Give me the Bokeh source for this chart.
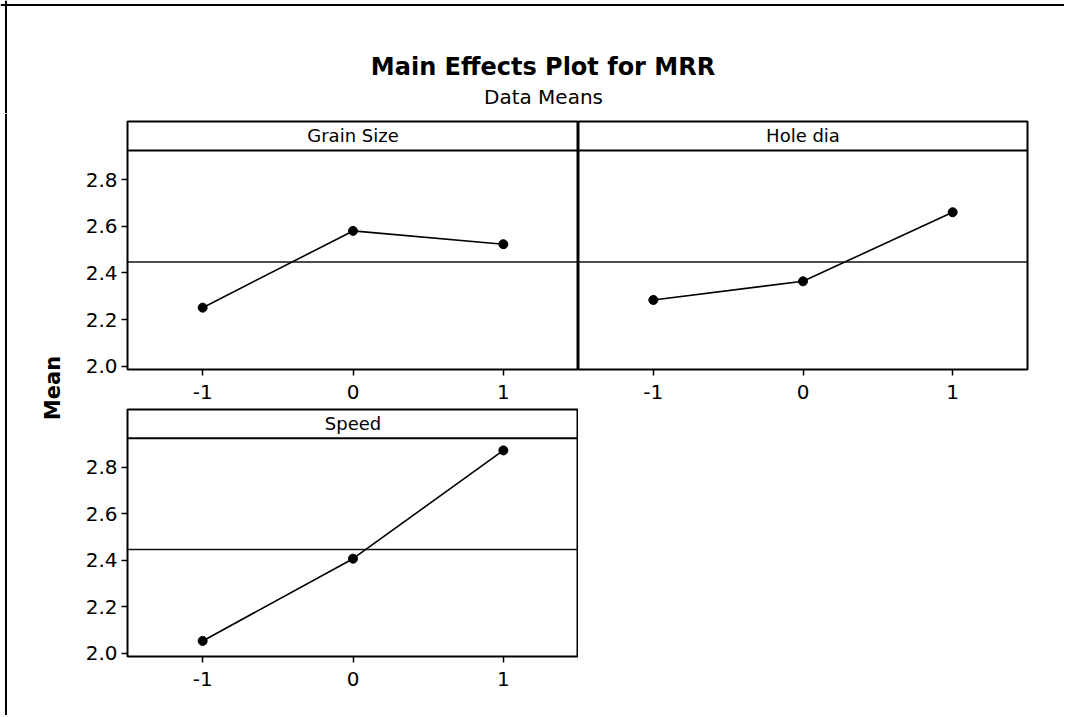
from math import pi
from bokeh.plotting import figure
from bokeh.layouts import row, column
from bokeh.models import Span, Label, Spacer, FixedTicker, Range1d
from bokeh.embed import file_html
from bokeh.resources import INLINE

# ---- data ----
levels = [-1, 0, 1]
tick_labels = {-1: "-1", 0: "0", 1: "1"}
grain_size = [2.251, 2.580, 2.523]
hole_dia = [2.284, 2.364, 2.660]
speed = [2.053, 2.407, 2.873]
y_ticks = [2.0, 2.2, 2.4, 2.6, 2.8]
grand_mean = 2.447
panel_names = ["Grain Size", "Hole dia", "Speed"]

FONT = "DejaVu Sans"
Y0, Y1, HDR = 1.986, 3.049, 2.925


def panel(name, values, width, height, left, right, top, bottom, show_y):
    p = figure(width=width, height=height, output_backend="svg", toolbar_location=None,
               x_range=Range1d(-1.5, 1.5), y_range=Range1d(Y0, Y1),
               min_border_left=left, min_border_right=right,
               min_border_top=top, min_border_bottom=bottom)
    p.background_fill_color = "white"
    p.border_fill_color = "white"
    p.outline_line_color = "black"
    p.outline_line_width = 2
    p.grid.visible = False
    for ax in (p.xaxis, p.yaxis):
        ax.axis_line_color = None
        ax.major_tick_line_color = "black"
        ax.major_tick_line_width = 1.5
        ax.major_tick_out = 6
        ax.major_tick_in = 0
        ax.minor_tick_line_color = None
        ax.major_label_text_font = FONT
        ax.major_label_text_font_size = "20px"
        ax.major_label_text_color = "black"
    p.yaxis.major_label_standoff = 4
    p.xaxis.major_label_standoff = 9
    p.xaxis.ticker = FixedTicker(ticks=levels)
    p.xaxis.major_label_overrides = tick_labels
    p.yaxis.ticker = FixedTicker(ticks=y_ticks)
    p.yaxis.major_label_overrides = {v: f"{v:.1f}" for v in y_ticks}
    p.yaxis.visible = show_y

    p.add_layout(Span(location=grand_mean, dimension="width", line_color="#111111", line_width=1.5))
    p.add_layout(Span(location=HDR, dimension="width", line_color="black", line_width=2))
    p.add_layout(Label(x=0, y=(HDR + Y1) / 2, text=name, text_align="center",
                       text_baseline="middle", text_font=FONT, text_font_size="18px",
                       text_color="black"))
    p.line(levels, values, line_color="black", line_width=1.6)
    p.scatter(levels, values, size=9, fill_color="black", line_color="black")
    return p


# title block
t = figure(width=1064, height=113, output_backend="svg", toolbar_location=None,
           x_range=Range1d(0, 1064), y_range=Range1d(0, 113),
           x_axis_type=None, y_axis_type=None, min_border=0)
t.outline_line_color = None
t.grid.visible = False
t.add_layout(Label(x=542.5, y=46.3, text="Main Effects Plot for MRR", text_align="center",
                   text_baseline="alphabetic", text_font=FONT, text_font_style="bold",
                   text_font_size="24px", text_color="black"))
t.add_layout(Label(x=543, y=16.3, text="Data Means", text_align="center",
                   text_baseline="alphabetic", text_font=FONT, text_font_size="20px",
                   text_color="black"))
# outer frame (top and left edges of the page border)
t.add_layout(Span(location=108.5, dimension="width", line_color="black", line_width=2))
t.add_layout(Span(location=5.5, dimension="height", line_color="black", line_width=2))

# y label column
m = figure(width=72, height=602, output_backend="svg", toolbar_location=None,
           x_range=Range1d(0, 72), y_range=Range1d(0, 602),
           x_axis_type=None, y_axis_type=None, min_border=0)
m.outline_line_color = None
m.grid.visible = False
m.add_layout(Label(x=52.5, y=327.5, text="Mean", angle=pi / 2, text_align="center",
                   text_baseline="middle", text_font=FONT, text_font_style="bold",
                   text_font_size="21px", text_color="black"))
m.add_layout(Span(location=5.5, dimension="height", line_color="black", line_width=2))

p1 = panel(panel_names[0], grain_size, 506, 292, 55, 0, 8, 36, True)
p2 = panel(panel_names[1], hole_dia, 486, 292, 0, 37, 8, 36, False)
p3 = panel(panel_names[2], speed, 506, 310, 55, 0, 4, 59, True)
sp = Spacer(width=486, height=310)

layout = column(t, row(m, column(row(p1, p2), row(p3, sp))))

open("out.html", "w").write(file_html(layout, INLINE))
